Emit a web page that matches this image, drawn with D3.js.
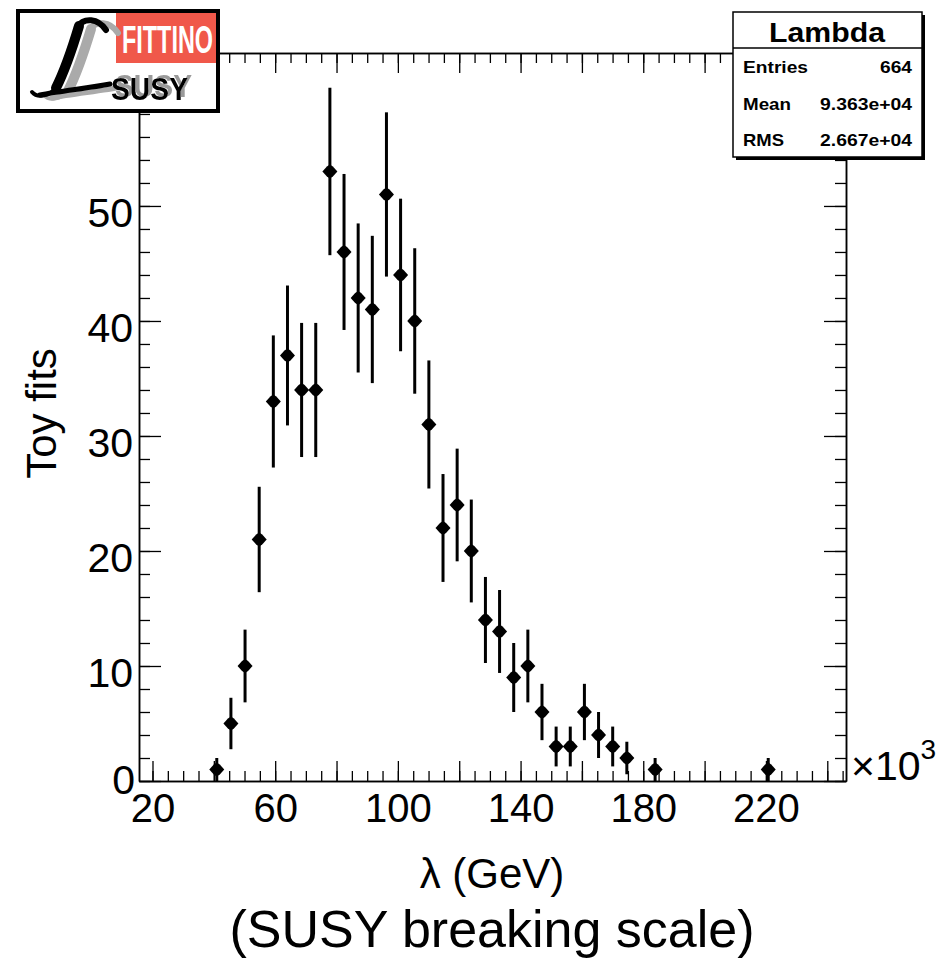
<!DOCTYPE html>
<html>
<head>
<meta charset="utf-8">
<script src="https://cdn.jsdelivr.net/npm/d3@7"></script>
<style>
  html, body { margin: 0; padding: 0; background: #fff; }
  svg { display: block; font-family: "Liberation Sans", Arial, Helvetica, sans-serif; }
</style>
</head>
<body>
<svg id="chart" width="938" height="958"></svg>
<script>
// Histogram of toy-fit results for the SUSY breaking scale Lambda (in units of 10^3 GeV)
const histName = "Lambda";
const binLow = 15.6;
const binHigh = 246.1;
const counts = [
  0, 0, 0, 0, 0, 1, 5, 10, 21, 33,
  37, 34, 34, 53, 46, 42, 41, 51, 44, 40,
  31, 22, 24, 20, 14, 13, 9, 10, 6, 3,
  3, 6, 4, 3, 2, 0, 1, 0, 0, 0,
  0, 0, 0, 0, 1, 0, 0, 0, 0, 0
];
const statLabels = ["Entries", "Mean", "RMS"];
const statValues = ["664", "9.363e+04", "2.667e+04"];
const xMajorTicks = [20, 40, 60, 80, 100, 120, 140, 160, 180, 200, 220, 240];
const xLabelTicks = [20, 60, 100, 140, 180, 220];
const yMajorTicks = [0, 10, 20, 30, 40, 50, 60];
const yLabelTicks = [0, 10, 20, 30, 40, 50];
const yMax = 63.3;
const xTitle = "\u03bb (GeV)";
const xSubTitle = "(SUSY breaking scale)";
const yTitle = "Toy fits";

const svg = d3.select("#chart");
const frame = { left: 139, right: 846, top: 53, bottom: 781 };

const x = d3.scaleLinear().domain([binLow, binHigh]).range([frame.left, frame.right]);
const y = d3.scaleLinear().domain([0, yMax]).range([frame.bottom, frame.top]);

const nBins = counts.length;
const binWidth = (binHigh - binLow) / nBins;
const bins = counts.map((n, i) => ({ center: binLow + (i + 0.5) * binWidth, n }));

const xMinor = d3.range(20, 246, 5);
const yMinor = d3.range(0, 63, 2);

// drop-shadow filter for the logo lettering
const defs = svg.append("defs");
const shadow = defs.append("filter").attr("id", "greyShadow")
  .attr("x", "-20%").attr("y", "-30%").attr("width", "140%").attr("height", "160%");
shadow.append("feOffset").attr("in", "SourceAlpha").attr("dx", 4).attr("dy", -3).attr("result", "off");
shadow.append("feFlood").attr("flood-color", "#9a9a9a").attr("result", "col");
shadow.append("feComposite").attr("in", "col").attr("in2", "off").attr("operator", "in").attr("result", "sh");
const merge = shadow.append("feMerge");
merge.append("feMergeNode").attr("in", "sh");
merge.append("feMergeNode").attr("in", "SourceGraphic");

function styleAxis(g) {
  g.selectAll("path.domain").attr("stroke", "#000").attr("stroke-width", 1.5);
  g.selectAll(".tick line").attr("stroke", "#000").attr("stroke-width", 1.3);
}

// bottom axis: minor and major ticks pointing inward, labels below
svg.append("g").attr("transform", `translate(0,${frame.bottom})`)
  .call(d3.axisBottom(x).tickValues(xMinor).tickSizeInner(-10).tickSizeOuter(0).tickFormat(""))
  .call(styleAxis);
const xAxisG = svg.append("g").attr("transform", `translate(0,${frame.bottom})`)
  .call(d3.axisBottom(x).tickValues(xMajorTicks).tickSizeInner(-20).tickSizeOuter(0)
    .tickFormat(d => xLabelTicks.includes(d) ? d : ""))
  .call(styleAxis);
xAxisG.selectAll(".tick text")
  .attr("y", 41).attr("dy", 0)
  .attr("font-size", 40).attr("fill", "#000")
  .attr("font-family", "'Liberation Sans', Arial, sans-serif");

// top axis
svg.append("g").attr("transform", `translate(0,${frame.top})`)
  .call(d3.axisTop(x).tickValues(xMinor).tickSizeInner(-10).tickSizeOuter(0).tickFormat(""))
  .call(styleAxis);
svg.append("g").attr("transform", `translate(0,${frame.top})`)
  .call(d3.axisTop(x).tickValues(xMajorTicks).tickSizeInner(-20).tickSizeOuter(0).tickFormat(""))
  .call(styleAxis);

// left axis
svg.append("g").attr("transform", `translate(${frame.left},0)`)
  .call(d3.axisLeft(y).tickValues(yMinor).tickSizeInner(-11).tickSizeOuter(0).tickFormat(""))
  .call(styleAxis);
const yAxisG = svg.append("g").attr("transform", `translate(${frame.left},0)`)
  .call(d3.axisLeft(y).tickValues(yMajorTicks).tickSizeInner(-22).tickSizeOuter(0)
    .tickFormat(d => yLabelTicks.includes(d) ? d : ""))
  .call(styleAxis);
yAxisG.selectAll(".tick text")
  .attr("x", d => d === 0 ? -4 : -6)
  .attr("dy", d => d === 0 ? 12 : 20.5)
  .attr("font-size", 41).attr("fill", "#000")
  .attr("font-family", "'Liberation Sans', Arial, sans-serif");

// right axis
svg.append("g").attr("transform", `translate(${frame.right},0)`)
  .call(d3.axisRight(y).tickValues(yMinor).tickSizeInner(-11).tickSizeOuter(0).tickFormat(""))
  .call(styleAxis);
svg.append("g").attr("transform", `translate(${frame.right},0)`)
  .call(d3.axisRight(y).tickValues(yMajorTicks).tickSizeInner(-22).tickSizeOuter(0).tickFormat(""))
  .call(styleAxis);

// axis exponent
const expo = svg.append("text").attr("x", 851).attr("y", 780)
  .attr("font-size", 41).attr("fill", "#000");
expo.append("tspan").text("\u00d710");
expo.append("tspan").attr("font-size", 28).attr("dy", -21).text("3");

// data points with sqrt(N) error bars
const filled = bins.filter(b => b.n > 0);
const pts = svg.append("g").attr("class", "points");
pts.selectAll("line.err").data(filled).join("line")
  .attr("class", "err")
  .attr("x1", d => x(d.center)).attr("x2", d => x(d.center))
  .attr("y1", d => y(Math.max(0, d.n - Math.sqrt(d.n))))
  .attr("y2", d => y(d.n + Math.sqrt(d.n)))
  .attr("stroke", "#000").attr("stroke-width", 3);
const diamond = "M0,-7 L3,-5 L7.5,0 L3,5 L0,7 L-3,5 L-7.5,0 L-3,-5 Z";
pts.selectAll("path.mk").data(filled).join("path")
  .attr("class", "mk")
  .attr("d", diamond)
  .attr("transform", d => `translate(${x(d.center)},${y(d.n)})`)
  .attr("fill", "#000");

// axis titles
svg.append("text").attr("x", 492).attr("y", 888).attr("text-anchor", "middle")
  .attr("font-size", 42).attr("fill", "#000").text(xTitle);
svg.append("text").attr("x", 492).attr("y", 947).attr("text-anchor", "middle")
  .attr("font-size", 52).attr("fill", "#000").text(xSubTitle);
svg.append("text").attr("transform", "translate(56,413.5) rotate(-90)")
  .attr("text-anchor", "middle").attr("font-size", 42).attr("fill", "#000").text(yTitle);

// statistics box
const sb = { x: 733, y: 12, w: 189, h: 145, head: 36 };
const stats = svg.append("g").attr("class", "stats");
stats.append("rect").attr("x", sb.x + 3).attr("y", sb.y + 3).attr("width", sb.w).attr("height", sb.h).attr("fill", "#000");
stats.append("rect").attr("x", sb.x).attr("y", sb.y).attr("width", sb.w).attr("height", sb.h)
  .attr("fill", "#fff").attr("stroke", "#000").attr("stroke-width", 1.5);
stats.append("line").attr("x1", sb.x).attr("x2", sb.x + sb.w)
  .attr("y1", sb.y + sb.head).attr("y2", sb.y + sb.head).attr("stroke", "#000").attr("stroke-width", 1.5);
stats.append("text").attr("x", 827).attr("y", 42).attr("text-anchor", "middle")
  .attr("font-size", 27).attr("font-weight", "bold")
  .attr("textLength", 116).attr("lengthAdjust", "spacingAndGlyphs").text(histName);
const rowY = [73, 110, 146];
const labelWidths = [65, 48, 41];
const valueWidths = [32, 92, 92];
stats.selectAll("text.lab").data(statLabels).join("text").attr("class", "lab")
  .attr("x", 743).attr("y", (d, i) => rowY[i])
  .attr("font-size", 17).attr("font-weight", "bold")
  .attr("textLength", (d, i) => labelWidths[i]).attr("lengthAdjust", "spacingAndGlyphs")
  .text(d => d);
stats.selectAll("text.val").data(statValues).join("text").attr("class", "val")
  .attr("x", 912).attr("y", (d, i) => rowY[i]).attr("text-anchor", "end")
  .attr("font-size", 17).attr("font-weight", "bold")
  .attr("textLength", (d, i) => valueWidths[i]).attr("lengthAdjust", "spacingAndGlyphs")
  .text(d => d);

// Fittino logo
const logo = svg.append("g").attr("class", "logo");
logo.append("rect").attr("x", 18).attr("y", 11).attr("width", 200).attr("height", 100)
  .attr("fill", "#fff").attr("stroke", "#000").attr("stroke-width", 4);
logo.append("rect").attr("x", 116).attr("y", 13).attr("width", 100).attr("height", 50).attr("fill", "#f0584a");
logo.append("text").attr("x", 122).attr("y", 53).attr("font-size", 38).attr("font-weight", "bold")
  .attr("font-family", "'Liberation Sans Narrow', 'Liberation Sans', Arial, sans-serif")
  .attr("fill", "#fff").attr("textLength", 91).attr("lengthAdjust", "spacingAndGlyphs").text("FITTINO");
const lStrokes = [
  { d: "M106,30 C98,18 84,17 77,27", w: 6 },
  { d: "M79,26 C73,46 65,70 56,88", w: 10 },
  { d: "M56,88 C48,97 37,98 32,92", w: 4 },
  { d: "M40,95 C60,91 90,88 110,84", w: 5 }
];
logo.selectAll("path.lsh").data(lStrokes).join("path").attr("class", "lsh")
  .attr("d", d => d.d).attr("transform", "translate(12,3)")
  .attr("fill", "none").attr("stroke", "#aaa").attr("stroke-width", d => d.w).attr("stroke-linecap", "round");
logo.selectAll("path.lbk").data(lStrokes).join("path").attr("class", "lbk")
  .attr("d", d => d.d)
  .attr("fill", "none").attr("stroke", "#000").attr("stroke-width", d => d.w).attr("stroke-linecap", "round");
logo.append("text").attr("x", 111).attr("y", 100).attr("font-size", 31).attr("font-weight", "bold")
  .attr("fill", "#000").attr("filter", "url(#greyShadow)")
  .attr("textLength", 77).attr("lengthAdjust", "spacingAndGlyphs").text("SUSY");
</script>
</body>
</html>
